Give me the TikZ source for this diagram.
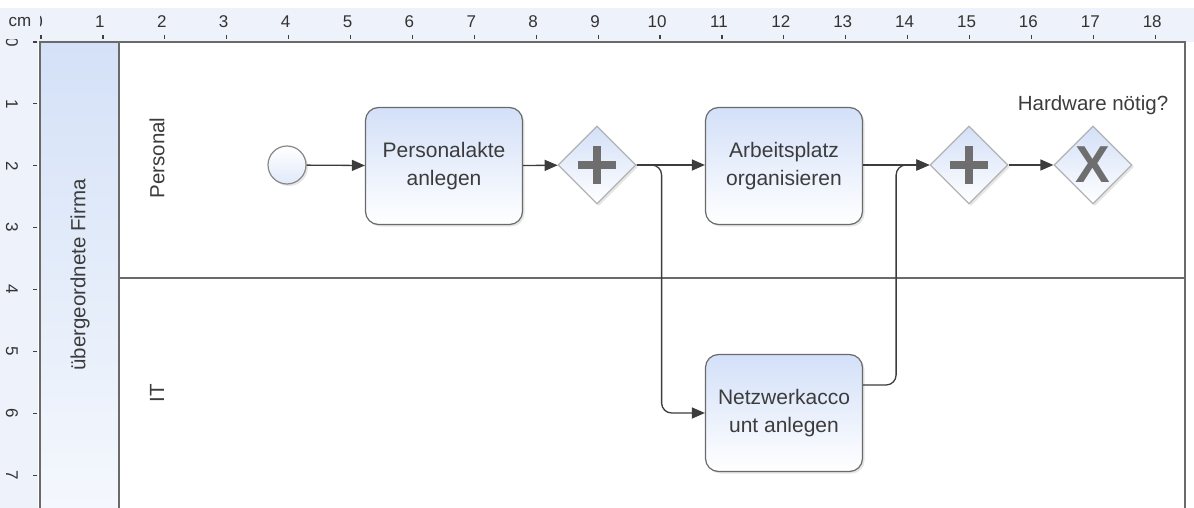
\documentclass[tikz,border=0pt]{standalone}
\usepackage{fontspec}
\setmainfont{Liberation Sans}
\usetikzlibrary{positioning, arrows.meta, shapes.geometric, shadows}
\definecolor{linegray}{HTML}{6A6A6A}
\definecolor{taskblue}{HTML}{D3E0F8}
\definecolor{poolblue}{HTML}{D4E1F7}
\definecolor{rulerbg}{HTML}{EEF2FA}
\definecolor{inkgray}{HTML}{3C3C3C}
\definecolor{markgray}{HTML}{6E6E6E}
\tikzstyle{flow} = [line width=1.3pt, draw=inkgray, -{Triangle[length=13pt,width=11pt]}]

\begin{document}
\begin{tikzpicture}[x=1pt, y=-1pt, font=\fontsize{20.5}{27}\selectfont]
    \tikzstyle{task} = [rectangle, rounded corners=13pt, draw=linegray, line width=1.2pt, top color=taskblue, bottom color=white, minimum width=157pt, minimum height=117pt, align=center, text=inkgray, font=\fontsize{21}{28}\selectfont, drop shadow={opacity=0.2, shadow xshift=2pt, shadow yshift=-2pt}]
    \tikzstyle{gateway} = [diamond, aspect=1, minimum size=78pt, inner sep=0pt, draw=black!30, line width=1.2pt, top color=taskblue, bottom color=white, drop shadow={opacity=0.2, shadow xshift=2pt, shadow yshift=-2pt}]
    \tikzstyle{startev} = [circle, minimum size=38pt, inner sep=0pt, draw=linegray!80, line width=1.2pt, top color=white, bottom color=taskblue!70, drop shadow={opacity=0.2, shadow xshift=2pt, shadow yshift=-2pt}]
    \tikzstyle{rulernum} = [font=\fontsize{17}{17}\selectfont, text=black!80, inner sep=0pt]
    \tikzstyle{lanelabel} = [rotate=90, text=inkgray]
    \tikzstyle{gwmark} = [line width=7.5pt, draw=markgray]

    \useasboundingbox (0,0) rectangle (1194,508);

    % rulers
    \fill[rulerbg] (0,8) rectangle (1194,42);
    \fill[rulerbg] (0,8) rectangle (38,508);
    \node[rulernum] (cm) at (20,22) {cm};
    \begin{scope}
      \clip (40,8) rectangle (1194,42);
      \foreach \n in {0,...,18} {
        \node[rulernum] (hx\n) at ({38+61.9*\n},22) {\n};
        \draw[black!75, line width=1.2pt] ({41+61.9*\n},35) -- ({41+61.9*\n},39);
      }
    \end{scope}
    \begin{scope}
      \clip (0,40) rectangle (38,508);
      \foreach \n in {0,...,7} {
        \node[rulernum, rotate=-90] (vy\n) at (12,{42+61.9*\n}) {\n};
        \draw[black!75, line width=1.2pt] (33,{42+61.9*\n}) -- (37,{42+61.9*\n});
      }
    \end{scope}

    % pool and lanes
    \shade[top color=poolblue, bottom color=poolblue!25] (40,42) rectangle (119,508);
    \draw[linegray, line width=1.5pt] (40,508) -- (40,42) -- (1185,42) -- (1185,508);
    \draw[linegray, line width=1.2pt] (119,42) -- (119,508);
    \draw[linegray, line width=1.2pt] (119,278) -- (1185,278);
    \node[lanelabel] (firma) at (80,275) {übergeordnete Firma};
    \node[lanelabel] (personal) at (157,158) {Personal};
    \node[lanelabel] (it) at (157,393) {IT};

    % process
    \node[startev] (start) at (287,165) {};
    \node[task] (akte) at (444,166) {Personalakte\\anlegen};
    \node[gateway] (split) at (597,165) {};
    \node[task] (platz) at (784,166) {Arbeitsplatz\\organisieren};
    \node[task] (netz) at (784,413) {Netzwerkacco\\unt anlegen};
    \node[gateway] (join) at (969,165) {};
    \node[gateway] (choice) at (1093,165) {};
    \node[text=inkgray] (hwlabel) at (1093,105) {Hardware nötig?};

    \draw[gwmark] (split.center) +(-19,0) -- +(19,0) (split.center) +(0,-19) -- +(0,19);
    \draw[gwmark] (join.center) +(-19,0) -- +(19,0) (join.center) +(0,-19) -- +(0,19);
    \node[font=\fontsize{52}{52}\bfseries\selectfont, text=markgray, inner sep=0pt] (xmark) at (choice.center) {X};

    \draw[flow] (start) -- (akte);
    \draw[flow] (akte) -- (split);
    \draw[flow] (split) -- (platz.west |- split);
    \draw[flow] (platz.east |- join) -- (join);
    \draw[flow] (choice.west -| join.east) -- (choice);
    \draw[flow, rounded corners=10pt] (split.east) -- ++(25,0) |- (netz.west);
    \draw[flow, rounded corners=10pt] ([yshift=28pt]netz.east) -- ++(33,0) |- (join.west);
\end{tikzpicture}
\end{document}
